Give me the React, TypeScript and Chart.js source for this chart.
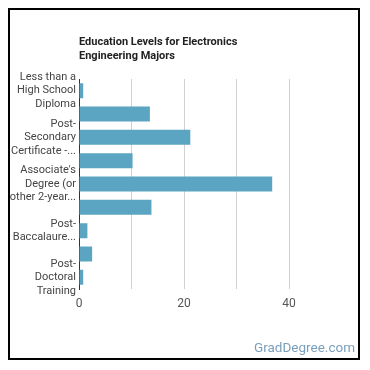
import React, { useEffect, useRef } from "react";
import { Chart, registerables } from "chart.js";

Chart.register(...registerables);

const categories = [
  "Less than a High School Diploma",
  "High School Diploma",
  "Post-Secondary Certificate - awarded for training completed after high school",
  "Some College Courses",
  "Associate's Degree (or other 2-year degree)",
  "Bachelor's Degree",
  "Post-Baccalaureate Certificate",
  "Master's Degree",
  "Post-Doctoral Training",
];

const values = [0.8, 13.5, 21.2, 10.2, 36.8, 13.8, 1.6, 2.5, 0.8];

const tickLabels: (string | string[])[] = [
  ["Less than a", "High School", "Diploma"],
  "",
  ["Post-", "Secondary", "Certificate -..."],
  "",
  ["Associate's", "Degree (or", "other 2-year..."],
  "",
  ["Post-", "Baccalaure..."],
  "",
  ["Post-", "Doctoral", "Training"],
];

const xTickValues = [0, 20, 40];

export default function App() {
  const ref = useRef<HTMLCanvasElement | null>(null);

  useEffect(() => {
    if (!ref.current) return;
    const chart = new Chart(ref.current, {
      type: "bar",
      data: {
        labels: categories,
        datasets: [
          {
            data: values,
            backgroundColor: "#5ba4c2",
            borderWidth: 0,
            barPercentage: 0.64,
            categoryPercentage: 1,
          },
        ],
      },
      options: {
        indexAxis: "y",
        animation: false,
        responsive: false,
        maintainAspectRatio: false,
        layout: { padding: { top: 69, left: 0, right: 16.5, bottom: 39 } },
        plugins: {
          legend: { display: false },
          tooltip: { enabled: false },
          title: { display: false },
        },
        scales: {
          x: {
            min: 0,
            max: 50,
            ticks: {
              stepSize: 10,
              autoSkip: false,
              maxRotation: 0,
              padding: 8,
              color: "#555",
              font: { family: "Roboto", size: 12 },
              callback: (v: any) => (xTickValues.includes(Number(v)) ? String(v) : ""),
            },
            grid: {
              drawTicks: false,
              color: (ctx: any) => (ctx.tick && ctx.tick.value === 50 ? "rgba(0,0,0,0)" : "#d0d0d0"),
              lineWidth: 1,
            },
            border: { display: false },
            afterFit: (s: any) => {
              s.height = 30;
            },
          },
          y: {
            ticks: {
              autoSkip: false,
              padding: 3,
              color: "#444",
              font: { family: "Roboto", size: 11, lineHeight: 1.23 },
              callback: (_v: any, i: number) => tickLabels[i],
            },
            grid: { display: false, drawTicks: false },
            border: { display: true, color: "#333", width: 1 },
            afterFit: (s: any) => {
              s.width = 69;
            },
          },
        },
      },
    });
    return () => chart.destroy();
  }, []);

  return (
    <div
      style={{
        position: "relative",
        width: 348,
        height: 348,
        border: "2px solid #000",
        background: "#fff",
        fontFamily: "Roboto, sans-serif",
      }}
    >
      <canvas ref={ref} width={348} height={348} style={{ position: "absolute", left: 0, top: 0 }} />
      <div
        style={{
          position: "absolute",
          left: 69,
          top: 25,
          fontSize: 11,
          fontWeight: "bold",
          lineHeight: "14px",
          color: "#222",
        }}
      >
        Education Levels for Electronics
        <br />
        Engineering Majors
      </div>
      <div
        style={{
          position: "absolute",
          right: 3,
          top: 329,
          fontSize: 13.5,
          color: "#7a9fbd",
        }}
      >
        GradDegree.com
      </div>
    </div>
  );
}
